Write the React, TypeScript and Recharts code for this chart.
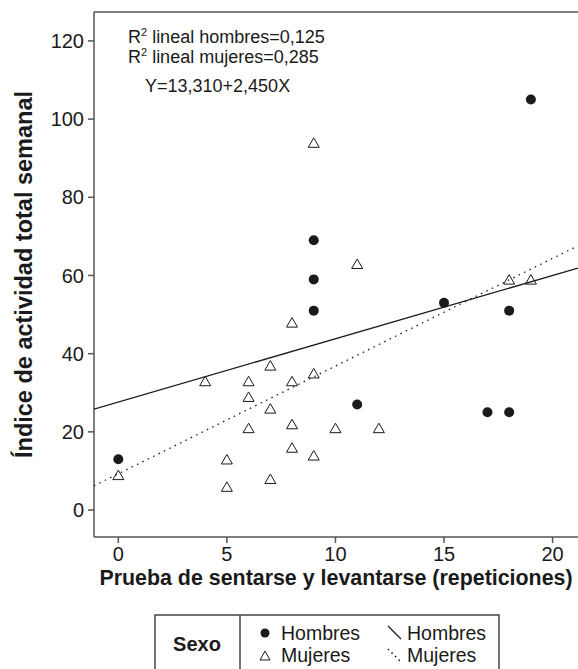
import React from 'react'
import {
  ScatterChart,
  Scatter,
  XAxis,
  YAxis,
  ReferenceLine,
} from 'recharts'

// Puntos (repeticiones, índice de actividad)
const hombres = [
  { x: 0, y: 13 },
  { x: 9, y: 69 },
  { x: 9, y: 59 },
  { x: 9, y: 51 },
  { x: 11, y: 27 },
  { x: 15, y: 53 },
  { x: 17, y: 25 },
  { x: 18, y: 51 },
  { x: 18, y: 25 },
  { x: 19, y: 105 },
]

const mujeres = [
  { x: 0, y: 9 },
  { x: 4, y: 33 },
  { x: 5, y: 13 },
  { x: 5, y: 6 },
  { x: 6, y: 33 },
  { x: 6, y: 29 },
  { x: 6, y: 21 },
  { x: 7, y: 37 },
  { x: 7, y: 26 },
  { x: 7, y: 8 },
  { x: 8, y: 48 },
  { x: 8, y: 33 },
  { x: 8, y: 22 },
  { x: 8, y: 16 },
  { x: 9, y: 94 },
  { x: 9, y: 35 },
  { x: 9, y: 14 },
  { x: 10, y: 21 },
  { x: 11, y: 63 },
  { x: 12, y: 21 },
  { x: 18, y: 59 },
  { x: 19, y: 59 },
]

const lineaHombres = [
  { x: -1.12, y: 25.8 },
  { x: 21.17, y: 61.9 },
]
const lineaMujeres = [
  { x: -1.12, y: 6.2 },
  { x: 21.17, y: 67.6 },
]

const X_DOMAIN = [-1.12, 21.17]
const Y_DOMAIN = [-6.9, 127.4]
const X_TICKS = [0, 5, 10, 15, 20]
const Y_TICKS = [0, 20, 40, 60, 80, 100, 120]

const AXIS = '#555'
const INK = '#1a1a1a'

const Circle = (props: any) => {
  const { cx, cy } = props
  if (cx == null || cy == null) return <g />
  return <circle cx={cx} cy={cy} r={5} fill={INK} />
}

const Triangle = (props: any) => {
  const { cx, cy } = props
  if (cx == null || cy == null) return <g />
  const w = 5.5
  const h = 9.5
  const d = `M${cx - w},${cy + h / 2} L${cx + w},${cy + h / 2} L${cx},${cy - h / 2} Z`
  return <path d={d} fill="none" stroke={INK} strokeWidth={1} />
}

const NoDot = () => <g />

export default function App() {
  return (
    <div
      style={{
        position: 'absolute',
        left: 0,
        top: 0,
        width: 578,
        height: 669,
        background: '#fff',
        overflow: 'hidden',
        fontFamily: '"Liberation Sans", Arial, sans-serif',
      }}
    >
      <ScatterChart
        width={578}
        height={600}
        margin={{ top: 12, right: 0, bottom: 0, left: 0 }}
      >
        <XAxis
          type="number"
          dataKey="x"
          domain={X_DOMAIN}
          ticks={X_TICKS}
          allowDataOverflow
          height={63}
          tickSize={6}
          tickMargin={4}
          axisLine={{ stroke: AXIS, strokeWidth: 1.5 }}
          tickLine={{ stroke: AXIS, strokeWidth: 1.5 }}
          tick={{ fill: INK, fontSize: 20 }}
          label={{
            value: 'Prueba de sentarse y levantarse (repeticiones)',
            position: 'insideBottom',
            offset: 15,
            fill: INK,
            fontSize: 21.4,
            fontWeight: 'bold',
          }}
        />
        <YAxis
          type="number"
          dataKey="y"
          domain={Y_DOMAIN}
          ticks={Y_TICKS}
          allowDataOverflow
          width={94}
          tickSize={6}
          tickMargin={4}
          axisLine={{ stroke: AXIS, strokeWidth: 1.5 }}
          tickLine={{ stroke: AXIS, strokeWidth: 1.5 }}
          tick={{ fill: INK, fontSize: 20 }}
          label={{
            value: 'Índice de actividad total semanal',
            angle: -90,
            position: 'insideLeft',
            offset: 24,
            fill: INK,
            fontSize: 23.5,
            fontWeight: 'bold',
            style: { textAnchor: 'middle' },
          }}
        />
        <ReferenceLine y={Y_DOMAIN[1]} stroke={AXIS} strokeWidth={1.5} />
        <Scatter
          data={lineaHombres}
          line={{ stroke: INK, strokeWidth: 1.3 }}
          shape={NoDot}
          isAnimationActive={false}
        />
        <Scatter
          data={lineaMujeres}
          line={{ stroke: INK, strokeWidth: 1.3, strokeDasharray: '1.5 4.5' }}
          shape={NoDot}
          isAnimationActive={false}
        />
        <Scatter data={mujeres} shape={Triangle} isAnimationActive={false} />
        <Scatter data={hombres} shape={Circle} isAnimationActive={false} />
      </ScatterChart>

      <svg
        width={578}
        height={669}
        style={{ position: 'absolute', left: 0, top: 0, pointerEvents: 'none' }}
      >
        <g fill={INK} fontSize={18}>
          <text x={128} y={43}>
            R<tspan fontSize={11} dy={-7}>2</tspan>
            <tspan dy={7}> lineal hombres=0,125</tspan>
          </text>
          <text x={128} y={63}>
            R<tspan fontSize={11} dy={-7}>2</tspan>
            <tspan dy={7}> lineal mujeres=0,285</tspan>
          </text>
          <text x={145} y={92}>Y=13,310+2,450X</text>
        </g>

        {/* leyenda */}
        <rect x={155} y={615} width={344} height={80} fill="none" stroke="#444" strokeWidth={1.5} />
        <line x1={240} y1={615} x2={240} y2={669} stroke="#444" strokeWidth={1.5} />
        <text x={197} y={651} textAnchor="middle" fontSize={20} fontWeight="bold" fill={INK}>
          Sexo
        </text>
        <circle cx={265} cy={633} r={4.5} fill={INK} />
        <text x={281} y={640} fontSize={19.5} fill={INK}>Hombres</text>
        <path d="M260,660 L270,660 L265,651 Z" fill="none" stroke={INK} strokeWidth={1} />
        <text x={281} y={662} fontSize={19.5} fill={INK}>Mujeres</text>
        <line x1={388} y1={626} x2={401} y2={639} stroke={INK} strokeWidth={1.2} />
        <text x={407} y={640} fontSize={19.5} fill={INK}>Hombres</text>
        <line
          x1={388}
          y1={649}
          x2={401}
          y2={662}
          stroke={INK}
          strokeWidth={1.5}
          strokeDasharray="1.5 3.5"
        />
        <text x={407} y={662} fontSize={19.5} fill={INK}>Mujeres</text>
      </svg>
    </div>
  )
}
